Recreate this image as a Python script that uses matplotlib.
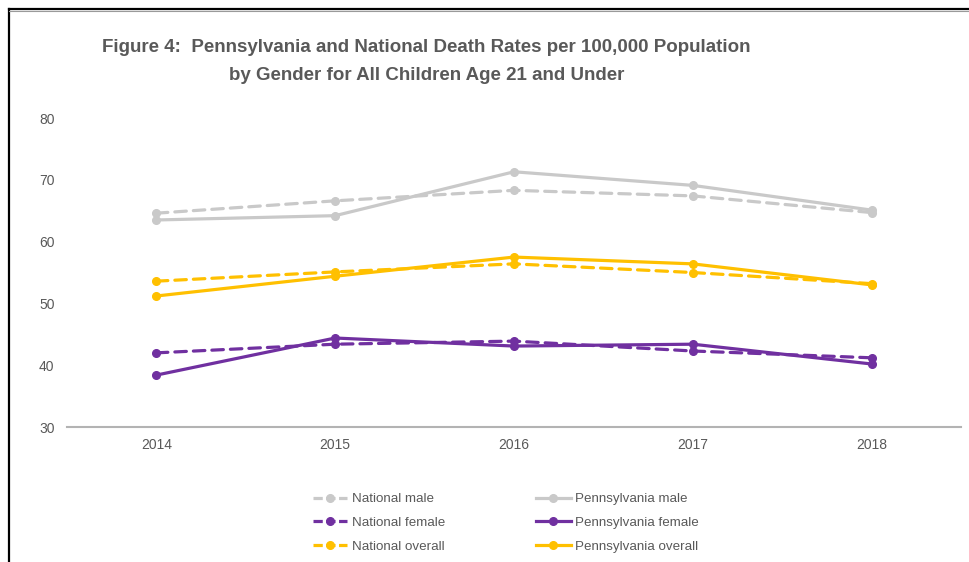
import matplotlib
matplotlib.use("Agg")
from matplotlib import pyplot as plt
from matplotlib.lines import Line2D
import matplotlib.font_manager as fm

names = {f.name for f in fm.fontManager.ttflist}
narrow = 'Liberation Sans Narrow' if 'Liberation Sans Narrow' in names else 'Liberation Sans'
plt.rcParams['font.family'] = [narrow, 'DejaVu Sans']

years = ['2014', '2015', '2016', '2017', '2018']
national_male = [64.6, 66.6, 68.3, 67.4, 64.7]
pa_male = [63.5, 64.2, 71.3, 69.1, 65.1]
national_female = [42.0, 43.4, 43.9, 42.3, 41.2]
pa_female = [38.4, 44.4, 43.1, 43.4, 40.2]
national_overall = [53.6, 55.1, 56.4, 55.0, 53.2]
pa_overall = [51.2, 54.4, 57.5, 56.4, 53.0]

gray = '#c9c9c9'
purple = '#7030a0'
gold = '#ffc000'
text_col = '#595959'

fig = plt.figure(figsize=(9.69, 5.62), dpi=100)
ax = fig.add_axes([0.0691, 0.2402, 0.9226, 0.5498])

x = range(len(years))
series = [
    ('National male', national_male, gray, True),
    ('Pennsylvania male', pa_male, gray, False),
    ('National female', national_female, purple, True),
    ('Pennsylvania female', pa_female, purple, False),
    ('National overall', national_overall, gold, True),
    ('Pennsylvania overall', pa_overall, gold, False),
]
handles = {}
for label, vals, col, dashed in series:
    ln, = ax.plot(x, vals, color=col, lw=2.3, marker='o', ms=5.5, label=label,
                  solid_capstyle='round')
    if dashed:
        ln.set_dashes((3.6, 2.2))
        ln.set_dash_capstyle('round')
    # legend proxy: short dashes so the gaps show either side of the marker
    handles[label] = Line2D([], [], color=col, lw=2.3, marker='o', ms=5.5,
                            ls=(0, (2.9, 1.1)) if dashed else '-')

ax.set_xlim(-0.5, 4.5)
ax.set_ylim(30, 80)
ax.set_yticks(range(30, 81, 10))
ax.set_xticks(list(x))
ax.set_xticklabels(years)
ax.tick_params(axis='both', length=0, labelsize=10, labelcolor=text_col)
ax.tick_params(axis='y', pad=9)
ax.tick_params(axis='x', pad=8)
for s in ['top', 'right', 'left']:
    ax.spines[s].set_visible(False)
ax.spines['bottom'].set_color('#b3b3b3')
ax.spines['bottom'].set_linewidth(1.5)

order = ['National male', 'National female', 'National overall',
         'Pennsylvania male', 'Pennsylvania female', 'Pennsylvania overall']
fig.legend([handles[k] for k in order], order, ncol=2, frameon=False,
           loc='center', bbox_to_anchor=(0.522, 0.0695), fontsize=9.6,
           labelcolor=text_col, handlelength=2.6, handletextpad=0.35,
           columnspacing=6.8, labelspacing=0.87)

fig.text(0.44, 0.916, 'Figure 4:  Pennsylvania and National Death Rates per 100,000 Population',
         ha='center', va='center', fontsize=13.5, fontweight='bold', color=text_col)
fig.text(0.44, 0.866, 'by Gender for All Children Age 21 and Under',
         ha='center', va='center', fontsize=13.5, fontweight='bold', color=text_col)

# frame border on left and top
fig.add_artist(Line2D([9 / 969, 9 / 969], [0, 1 - 9 / 562], color='black', lw=1.6,
                      transform=fig.transFigure))
fig.add_artist(Line2D([9 / 969, 1], [1 - 9 / 562, 1 - 9 / 562], color='black', lw=1.6,
                      transform=fig.transFigure))
fig.add_artist(Line2D([9 / 969, 1], [1 - 11 / 562, 1 - 11 / 562], color='#9a9a9a', lw=0.8,
                      transform=fig.transFigure))

fig.savefig('out.png', dpi=100)
